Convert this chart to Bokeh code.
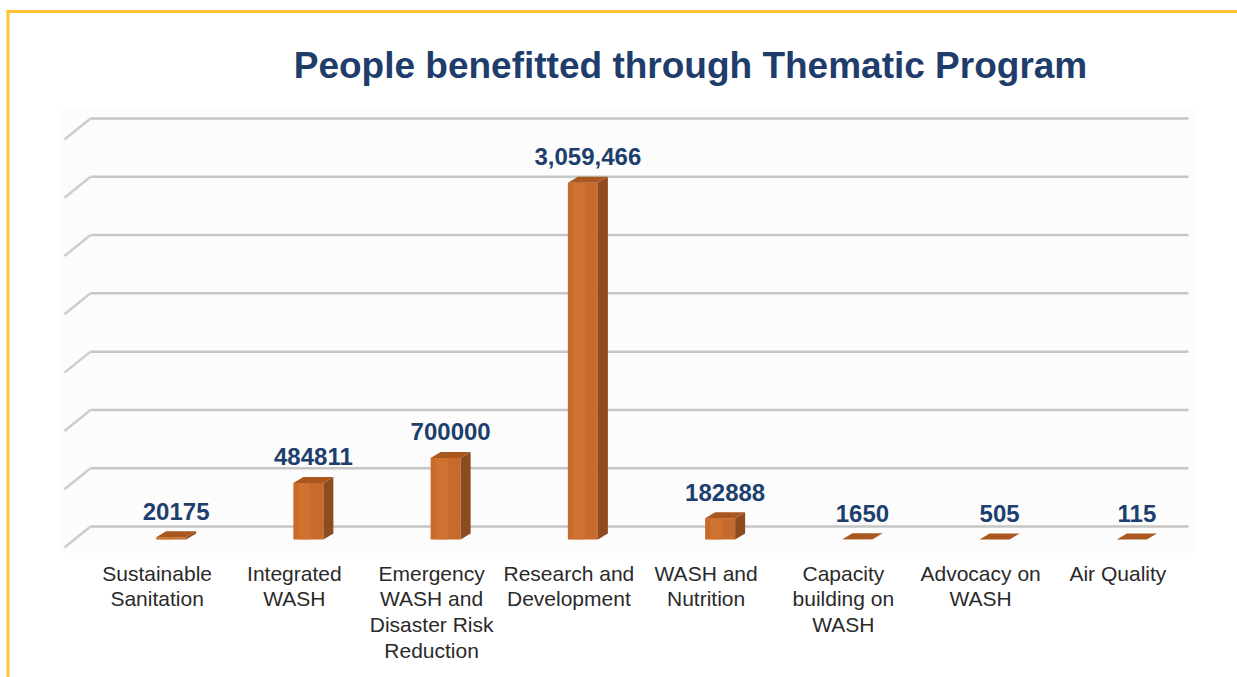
import numpy as np
from bokeh.plotting import figure
from bokeh.models import Range1d
from bokeh.embed import file_html
from bokeh.resources import INLINE
from bokeh.core.properties import value

# ---------------- data ----------------
categories = [
    "Sustainable\nSanitation",
    "Integrated\nWASH",
    "Emergency\nWASH and\nDisaster Risk\nReduction",
    "Research and\nDevelopment",
    "WASH and\nNutrition",
    "Capacity\nbuilding on\nWASH",
    "Advocacy on\nWASH",
    "Air Quality",
]
people = [20175, 484811, 700000, 3059466, 182888, 1650, 505, 115]
value_labels = ["20175", "484811", "700000", "3,059,466", "182888", "1650", "505", "115"]
grid_step = 500000
grid_max = 3500000
title_text = "People benefitted through Thematic Program"

# ---------------- layout / scale ----------------
W, H = 1237, 677
ORIGIN = 0                    # page pixel where the canvas starts
PX_X = 137.25                 # pixels per category slot
UPY = grid_step / 58.29       # data units per vertical pixel
X0_SCREEN, FLOOR_SCREEN = 90, 526   # page pixel of back wall left edge / floor

x_start = -0.5 - (X0_SCREEN - ORIGIN) / PX_X
x_end = x_start + W / PX_X
y_end = (FLOOR_SCREEN - ORIGIN) * UPY
y_start = -(ORIGIN + H - FLOOR_SCREEN) * UPY


def sx(px):
    return x_start + (px - ORIGIN) / PX_X


def sy(py):
    return (FLOOR_SCREEN - py) * UPY


p = figure(width=W, height=H, x_range=Range1d(x_start, x_end), y_range=Range1d(y_start, y_end),
           x_axis_type=None, y_axis_type=None, toolbar_location=None, output_backend="svg",
           min_border=0, outline_line_color=None, background_fill_color="white",
           border_fill_color="white")

n = len(categories)
idx = np.arange(n)

# faint chart panel
p.quad(left=[-0.5 - 30 / PX_X], right=[n - 0.5 + 5 / PX_X], top=[sy(108)], bottom=[sy(552)],
       fill_color="#FCFCFC", line_color=None)

# back-wall gridlines + 3D slanted ticks
ticks = np.arange(0, grid_max + 1, grid_step)
depth_dx = 26 / PX_X
depth_dy = 21 * UPY
p.segment(x0=np.full(len(ticks), -0.5), x1=np.full(len(ticks), n - 0.5), y0=ticks, y1=ticks,
          line_color="#C6C6C6", line_width=2.5)
p.segment(x0=np.full(len(ticks), -0.5), x1=np.full(len(ticks), -0.5 - depth_dx), y0=ticks,
          y1=ticks - depth_dy, line_color="#CDCDCD", line_width=2.5)

# 3D bars
off = 12 / PX_X
hw = 15 / PX_X
bdx = 10 / PX_X
bdy = 6 * UPY
base = -13 * UPY
vals = np.array(people, dtype=float)
left = idx + off - hw
right = idx + off + hw
top = base + vals

p.quad(left=left, right=right, bottom=np.full(n, base), top=top,
       fill_color="#C86A2B", line_color=None)
p.quad(left=left + 5 / PX_X, right=left + 17 / PX_X, bottom=np.full(n, base), top=top,
       fill_color="#D37632", line_color=None, fill_alpha=0.7)
side_xs = [[r, r + bdx, r + bdx, r] for r in right]
side_ys = [[base, base + bdy, t + bdy, t] for t in top]
p.patches(side_xs, side_ys, fill_color="#8E4B1F", line_color=None)
top_xs = [[l, r, r + bdx, l + bdx] for l, r in zip(left, right)]
top_ys = [[t, t, t + bdy, t + bdy] for t in top]
p.patches(top_xs, top_ys, fill_color="#A9571F", line_color=None)

# value labels
p.text(x=idx + off + bdx / 2, y=top + bdy, text=value_labels, y_offset=-20,
       text_font=value("Liberation Sans"), text_font_style="bold", text_font_size="24px",
       text_color="#1D3F6E", text_align="center", text_baseline="middle")

# category labels
p.text(x=idx, y=np.zeros(n), text=categories, x_offset=-2, y_offset=35,
       text_font=value("Liberation Sans"), text_font_size="21px", text_color="#2A2A2A",
       text_align="center", text_baseline="top", text_line_height=1.12)

# title
p.text(x=[sx(690)], y=[sy(65)], text=[title_text], text_font=value("Liberation Sans"),
       text_font_style="bold", text_font_size="37px", text_color="#1F3D6C",
       text_align="center", text_baseline="middle")

# yellow frame (left and top)
p.segment(x0=[sx(7.5), sx(6)], x1=[sx(7.5), sx(W + 2)], y0=[sy(9.5), sy(11)],
          y1=[sy(H + 2), sy(11)], line_color="#FFC233", line_width=3)

open("out.html", "w").write(file_html(p, INLINE))
